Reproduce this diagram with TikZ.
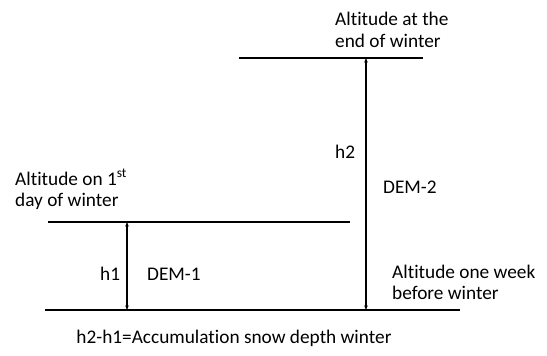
\documentclass[tikz,border=0pt]{standalone}
\usepackage{fontspec}
\setmainfont{Carlito}[Ligatures=NoCommon]
\usetikzlibrary{positioning,arrows.meta}

\begin{document}
\begin{tikzpicture}[x=1pt,y=-1pt,>={Stealth[length=4.5pt,width=3.5pt]},
  level/.style={line width=1.5pt},
  span/.style={<->,line width=1.4pt},
  lbl/.style={font=\fontsize{19.3}{21}\selectfont,align=left,inner sep=0pt}]
  \useasboundingbox (0,0) rectangle (547,356);
  % altitude levels
  \coordinate (topL) at (239,58);  \coordinate (topR) at (423,58);
  \coordinate (midL) at (48,222);  \coordinate (midR) at (350,222);
  \coordinate (botL) at (45,310);  \coordinate (botR) at (460,310);
  \draw[level] (topL) -- (topR);
  \draw[level] (midL) -- (midR);
  \draw[level] (botL) -- (botR);
  % depths
  \coordinate (h1top) at (127,222); \coordinate (h1bot) at (127,310);
  \coordinate (h2top) at (366,58);  \coordinate (h2bot) at (366,310);
  \draw[span] (h1top) -- (h1bot);
  \draw[span] (h2top) -- (h2bot);
  % labels (base = last line)
  \node[lbl,anchor=base west] (endw) at (335,47) {Altitude at the\\end of winter};
  \node[lbl,anchor=base west] (firstd) at (15,206) {Altitude on 1\textsuperscript{st}\\day of winter};
  \node[lbl,anchor=base west] (weekb) at (392,299) {Altitude one week\\before winter};
  \node[lbl,anchor=base west] (h2) at (335,158) {h2};
  \node[lbl,anchor=base west] (dem2) at (383,193) {DEM-2};
  \node[lbl,anchor=base west] (h1) at (100,280) {h1};
  \node[lbl,anchor=base west] (dem1) at (147,280) {DEM-1};
  \node[lbl,anchor=base] (note) at (234,343) {h2-h1=Accumulation snow depth winter};
\end{tikzpicture}
\end{document}
